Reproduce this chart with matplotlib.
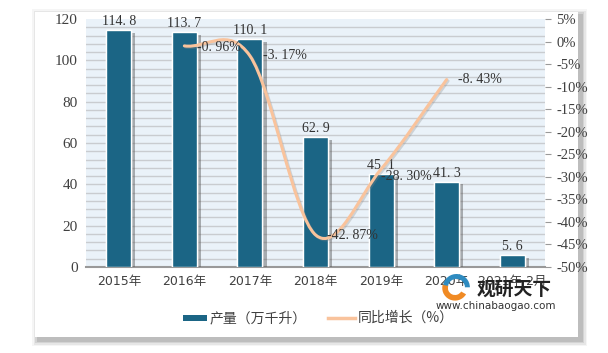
import numpy as np
import matplotlib
matplotlib.use("Agg")
import matplotlib.pyplot as plt
import matplotlib.patheffects as pe
from matplotlib.path import Path
from matplotlib.patches import PathPatch, Rectangle, Wedge

plt.rcParams['font.family'] = ['Liberation Serif', 'Noto Sans CJK SC', 'DejaVu Sans']

# data
years = ["2015年", "2016年", "2017年", "2018年", "2019年", "2020年", "2021年 2月"]
output = [114.8, 113.7, 110.1, 62.9, 45.1, 41.3, 5.6]
growth_years = [1, 2, 3, 4, 5]
growth = [-0.96, -3.17, -42.87, -28.30, -8.43]
growth_labels = ["-0.96%", "-3.17%", "-42.87%", "-28.30%", "-8.43%"]

bar_color = "#1B6585"
line_color = "#F9C39C"

fig = plt.figure(figsize=(6.08, 3.53), dpi=100)
fig.patch.set_facecolor("white")

# card with soft shadow
for i, a in enumerate([0.04, 0.06, 0.08, 0.10]):
    d = (4 - i) * 1.5
    fig.patches.append(Rectangle(((35 - d + 3) / 608, 1 - (337 + d + 3) / 353),
                                 (543 + 2 * d) / 608, (325 + 2 * d) / 353,
                                 transform=fig.transFigure, facecolor="black",
                                 alpha=a, edgecolor="none", zorder=-3))
fig.patches.append(Rectangle((35 / 608, 1 - 337 / 353), 543 / 608, 325 / 353,
                             transform=fig.transFigure, facecolor="white",
                             edgecolor="none", zorder=-2))

ax = fig.add_axes([86 / 608, 1 - 267 / 353, 459 / 608, 248 / 353])
ax.set_facecolor("#EAF2F9")
x = np.arange(len(years))
ax.set_xlim(-0.5, len(years) - 0.5)
ax.set_ylim(0, 120)
for yy in np.arange(4, 120, 4):
    ax.axhline(yy, color="#C9CCD0", lw=1.0, zorder=1)

bars = ax.bar(x, output, width=0.38, color=bar_color, edgecolor="white",
              linewidth=1.0, zorder=3,
              path_effects=[pe.withSimplePatchShadow(offset=(3, -2), shadow_rgbFace="#555555", alpha=0.45),
                            pe.Normal()])
for xi, v in zip(x, output):
    ax.text(xi, v + 1.0, f"{v:.1f}".replace(".", ". "), ha="center", va="bottom",
            fontsize=10, color="#333333", zorder=6)

ax.set_yticks(range(0, 121, 20))
ax.set_xticks(x)
ax.set_xticklabels(years, fontsize=9, color="#404040",
                   family=['DejaVu Sans', 'Noto Sans CJK SC'])
ax.tick_params(axis="both", length=0, pad=6)
ax.tick_params(axis="y", labelsize=11, colors="#404040")
for s in ["top", "right", "left"]:
    ax.spines[s].set_visible(False)
ax.spines["bottom"].set_color("#999999")
ax.spines["bottom"].set_linewidth(1.5)

ax2 = ax.twinx()
ax2.set_ylim(-50, 5)
ax2.set_yticks(range(-50, 6, 5))
ax2.set_yticklabels([f"{t}%" for t in range(-50, 6, 5)], fontsize=10.5, color="#404040")
ax2.tick_params(axis="y", direction="out", length=4, color="#999999", pad=4)
for s in ["top", "left", "bottom", "right"]:
    ax2.spines[s].set_visible(False)

# smoothed line as bezier path through the growth points
px = np.array(growth_years, dtype=float)
py = np.array(growth, dtype=float)
n = len(px)
tx = np.zeros(n)
ty = np.zeros(n)
for i in range(n):
    lo = max(i - 1, 0)
    hi = min(i + 1, n - 1)
    tx[i] = (px[hi] - px[lo]) / (hi - lo)
    ty[i] = (py[hi] - py[lo]) / (hi - lo)
verts = [(px[0], py[0])]
codes = [Path.MOVETO]
for i in range(n - 1):
    verts += [(px[i] + tx[i] / 3, py[i] + ty[i] / 3),
              (px[i + 1] - tx[i + 1] / 3, py[i + 1] - ty[i + 1] / 3),
              (px[i + 1], py[i + 1])]
    codes += [Path.CURVE4] * 3
curve = PathPatch(Path(verts, codes), facecolor="none", edgecolor=line_color, lw=2.2,
                  zorder=5, capstyle="round",
                  path_effects=[pe.SimpleLineShadow(offset=(1, -1), shadow_color="#888888", alpha=0.3),
                                pe.Normal()])
ax2.add_patch(curve)

offsets = [(0.2, -0.3), (0.2, 0.0), (0.17, -0.2), (0.0, -1.7), (0.17, 0.0)]
for gx, gy, lab, (dx, dy) in zip(growth_years, growth, growth_labels, offsets):
    ax2.text(gx + dx, gy + dy, lab.replace(".", ". "), ha="left", va="center",
             fontsize=10, color="#333333", zorder=6)

# legend
fig.patches.append(Rectangle((183 / 608, 1 - 321 / 353), 24 / 608, 6 / 353,
                             transform=fig.transFigure, facecolor=bar_color,
                             edgecolor="none", zorder=3))
fig.text(210 / 608, 1 - 318 / 353, "产量（万千升）", fontsize=10, va="center", ha="left",
         color="#404040", family=['Noto Sans CJK SC'])
fig.lines.append(plt.Line2D([328 / 608, 355 / 608], [1 - 318 / 353, 1 - 318 / 353],
                            transform=fig.transFigure, color=line_color, lw=2.5))
fig.text(358 / 608, 1 - 318 / 353, "同比增长（%）", fontsize=10, va="center", ha="left",
         color="#404040", family=['Noto Sans CJK SC'])

# watermark
wm = fig.add_axes([438 / 608, 1 - 302 / 353, 34 / 608, 28 / 353])
wm.set_xlim(-1.2, 1.2)
wm.set_ylim(-1, 1)
wm.axis("off")
wm.add_patch(Wedge((0, 0), 0.9, 160, 330, width=0.4, facecolor="#F08A24", edgecolor="none"))
wm.add_patch(Wedge((0.1, 0.05), 0.95, 0, 170, width=0.35, facecolor="#2E8BC0", edgecolor="none"))
fig.text(514 / 608, 1 - 289 / 353, "观研天下", fontsize=13.5, fontweight="bold", va="center",
         ha="center", color="#222222", family=['Noto Sans CJK SC'], zorder=10)
fig.text(496 / 608, 1 - 306 / 353, "www.chinabaogao.com", fontsize=7.5, va="center",
         ha="center", color="#333333", family=['DejaVu Sans'], zorder=10)

fig.savefig("out.png", dpi=100)
